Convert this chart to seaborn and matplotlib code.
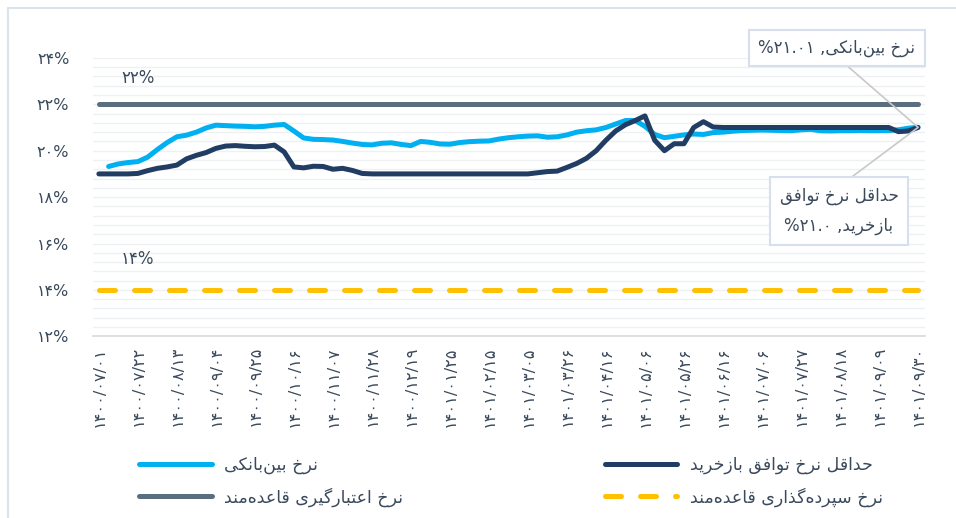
import numpy as np
import matplotlib
matplotlib.use("Agg")
import matplotlib.pyplot as plt
import seaborn as sns
from matplotlib.lines import Line2D
from matplotlib.patches import Rectangle

# === Data (one value every quarter of a tick) ===
tick_labels = [
    "۱۴۰۰/۰۷/۰۱", "۱۴۰۰/۰۷/۲۲", "۱۴۰۰/۰۸/۱۳", "۱۴۰۰/۰۹/۰۴", "۱۴۰۰/۰۹/۲۵",
    "۱۴۰۰/۱۰/۱۶", "۱۴۰۰/۱۱/۰۷", "۱۴۰۰/۱۱/۲۸", "۱۴۰۰/۱۲/۱۹", "۱۴۰۱/۰۱/۲۵",
    "۱۴۰۱/۰۲/۱۵", "۱۴۰۱/۰۳/۰۵", "۱۴۰۱/۰۳/۲۶", "۱۴۰۱/۰۴/۱۶", "۱۴۰۱/۰۵/۰۶",
    "۱۴۰۱/۰۵/۲۶", "۱۴۰۱/۰۶/۱۶", "۱۴۰۱/۰۷/۰۶", "۱۴۰۱/۰۷/۲۷", "۱۴۰۱/۰۸/۱۸",
    "۱۴۰۱/۰۹/۰۹", "۱۴۰۱/۰۹/۳۰",
]

interbank = [
    np.nan, 19.32, 19.43, 19.49,
    19.53, 19.72, 20.05, 20.35,
    20.60, 20.67, 20.80, 20.98,
    21.10, 21.08, 21.06, 21.05,
    21.03, 21.05, 21.10, 21.13,
    20.85, 20.55, 20.49, 20.48,
    20.46, 20.40, 20.33, 20.27,
    20.25, 20.32, 20.34, 20.27,
    20.22, 20.40, 20.36, 20.29,
    20.28, 20.35, 20.39, 20.41,
    20.42, 20.50, 20.56, 20.60,
    20.63, 20.64, 20.58, 20.60,
    20.68, 20.80, 20.86, 20.90,
    21.00, 21.15, 21.30, 21.30,
    21.05, 20.70, 20.56, 20.62,
    20.68, 20.72, 20.70, 20.78,
    20.80, 20.84, 20.87, 20.88,
    20.89, 20.88, 20.87, 20.86,
    20.90, 20.92, 20.86, 20.85,
    20.86, 20.86, 20.87, 20.86,
    20.86, 20.87, 20.90, 20.97,
    21.01,
]

repo_min = [
    19.00, 19.00, 19.00, 19.00,
    19.02, 19.14, 19.24, 19.30,
    19.38, 19.65, 19.80, 19.92,
    20.10, 20.20, 20.22, 20.19,
    20.17, 20.18, 20.24, 19.95,
    19.30, 19.26, 19.33, 19.32,
    19.20, 19.24, 19.15, 19.02,
    19.00, 19.00, 19.00, 19.00,
    19.00, 19.00, 19.00, 19.00,
    19.00, 19.00, 19.00, 19.00,
    19.00, 19.00, 19.00, 19.00,
    19.00, 19.05, 19.10, 19.12,
    19.28, 19.45, 19.67, 20.00,
    20.45, 20.85, 21.12, 21.30,
    21.50, 20.45, 20.00, 20.30,
    20.30, 21.00, 21.25, 21.02,
    21.00, 21.00, 21.00, 21.00,
    21.00, 21.00, 21.00, 21.00,
    21.00, 21.00, 21.00, 21.00,
    21.00, 21.00, 21.00, 21.00,
    21.00, 21.00, 20.82, 20.85,
    21.00,
]

credit_rate = 22.0
deposit_rate = 14.0
y_ticks = [12, 14, 16, 18, 20, 22, 24]

# === Persian text helpers (matplotlib has no Arabic shaping) ===
FORMS = {
    "ا": (0xFE8D, 0xFE8E), "ب": (0xFE8F, 0xFE90, 0xFE91, 0xFE92),
    "پ": (0xFB56, 0xFB57, 0xFB58, 0xFB59), "ت": (0xFE95, 0xFE96, 0xFE97, 0xFE98),
    "ح": (0xFEA1, 0xFEA2, 0xFEA3, 0xFEA4), "خ": (0xFEA5, 0xFEA6, 0xFEA7, 0xFEA8),
    "د": (0xFEA9, 0xFEAA), "ذ": (0xFEAB, 0xFEAC), "ر": (0xFEAD, 0xFEAE),
    "ز": (0xFEAF, 0xFEB0), "س": (0xFEB1, 0xFEB2, 0xFEB3, 0xFEB4),
    "ع": (0xFEC9, 0xFECA, 0xFECB, 0xFECC), "ف": (0xFED1, 0xFED2, 0xFED3, 0xFED4),
    "ق": (0xFED5, 0xFED6, 0xFED7, 0xFED8), "ک": (0xFB8E, 0xFB8F, 0xFB90, 0xFB91),
    "ك": (0xFB8E, 0xFB8F, 0xFB90, 0xFB91), "گ": (0xFB92, 0xFB93, 0xFB94, 0xFB95),
    "ل": (0xFEDD, 0xFEDE, 0xFEDF, 0xFEE0), "م": (0xFEE1, 0xFEE2, 0xFEE3, 0xFEE4),
    "ن": (0xFEE5, 0xFEE6, 0xFEE7, 0xFEE8), "ه": (0xFEE9, 0xFEEA, 0xFEEB, 0xFEEC),
    "و": (0xFEED, 0xFEEE), "ی": (0xFBFC, 0xFBFD, 0xFBFE, 0xFBFF),
    "ي": (0xFBFC, 0xFBFD, 0xFBFE, 0xFBFF),
}


def fa(text):
    """shape Persian letters and put them in visual (left to right) order"""
    out = []
    for j, c in enumerate(text):
        if c not in FORMS:
            if c != "\u200c":
                out.append(c)
            continue
        f = FORMS[c]
        prev = text[j - 1] if j > 0 else ""
        nxt = text[j + 1] if j + 1 < len(text) else ""
        join_prev = prev in FORMS and len(FORMS[prev]) == 4
        join_next = len(f) == 4 and nxt in FORMS
        if join_prev and join_next:
            g = f[3]
        elif join_prev:
            g = f[1]
        elif join_next:
            g = f[2]
        else:
            g = f[0]
        out.append(chr(g))
    return "".join(reversed(out))


FA_DIGITS = str.maketrans("0123456789", "۰۱۲۳۴۵۶۷۸۹")


def pct(v):
    return f"{v:g}".translate(FA_DIGITS) + "%"


# === Style ===
LIGHT_BLUE = "#00B0F0"
NAVY = "#223D63"
GRAY = "#5A6E80"
YELLOW = "#FFC000"
TEXT = "#3A4A5C"
LW = 3.6

sns.set_theme(style="white")
plt.rcParams["font.family"] = ["DejaVu Sans"]

fig = plt.figure(figsize=(9.56, 5.18), dpi=100)
ax = fig.add_axes([93 / 956, 1 - 336.3 / 518, 832 / 956, 278.4 / 518])

x = np.arange(len(repo_min)) / 4
ticks = np.arange(len(tick_labels))

ax.plot(ticks[[0, -1]], [credit_rate, credit_rate], color=GRAY, lw=LW,
        solid_capstyle="round")
ax.plot(ticks[[0, -1]], [deposit_rate, deposit_rate], color=YELLOW, lw=LW,
        dashes=(3.2, 3.8), dash_capstyle="round")
sns.lineplot(x=x, y=interbank, ax=ax, color=LIGHT_BLUE, lw=LW,
             solid_capstyle="round", solid_joinstyle="round")
sns.lineplot(x=x, y=repo_min, ax=ax, color=NAVY, lw=LW,
             solid_capstyle="round", solid_joinstyle="round")

ax.set_xlim(-0.15, 21.18)
ax.set_ylim(12, 24)
ax.set_xticks(ticks)
ax.set_xticklabels(tick_labels, rotation=90, fontsize=11.6, color=TEXT)
ax.set_yticks(y_ticks)
ax.set_yticklabels([pct(v) for v in y_ticks], fontsize=11.5, color=TEXT)
ax.set_yticks(np.arange(12, 24.01, 0.4), minor=True)
ax.tick_params(axis="both", length=0, which="both")
ax.tick_params(axis="y", pad=17)
ax.tick_params(axis="x", pad=7)
ax.grid(True, axis="y", which="both", color="#EEF1F4", lw=1)
ax.set_axisbelow(True)
for s in ["top", "left", "right"]:
    ax.spines[s].set_visible(False)
ax.spines["bottom"].set_color("#D9D9D9")
ax.spines["bottom"].set_linewidth(1.2)

# level labels for the two policy rates
ax.annotate(pct(credit_rate), xy=(1, credit_rate), xytext=(0, 19),
            textcoords="offset points", ha="center", va="center",
            fontsize=12, color=TEXT)
ax.annotate(pct(deposit_rate), xy=(1, deposit_rate), xytext=(0, 22),
            textcoords="offset points", ha="center", va="center",
            fontsize=12, color=TEXT)

# call-outs on the last values
box = dict(boxstyle="square,pad=0.55", fc="white", ec="#D5DFEE", lw=1.5)
last_ib = f"%{interbank[-1]:.2f}".translate(FA_DIGITS)
last_repo = f"%{repo_min[-1]:.1f}".translate(FA_DIGITS)
ax.annotate(f"{last_ib} ,{fa('نرخ بین‌بانکی')}", xy=(ticks[-1], interbank[-1]),
            xytext=(837, 470), textcoords="figure pixels", ha="center", va="center",
            fontsize=12, color=TEXT, bbox=box,
            arrowprops=dict(arrowstyle="-", color="#C9C9C9", lw=1.2,
                            relpos=(0.5, 0), shrinkA=0, shrinkB=0))
ax.annotate(f"{fa('حداقل نرخ توافق')}\n{last_repo} ,{fa('بازخرید')}",
            xy=(ticks[-1], repo_min[-1]),
            xytext=(839, 307), textcoords="figure pixels", ha="center", va="center",
            fontsize=12, color=TEXT, bbox=box, linespacing=1.9,
            arrowprops=dict(arrowstyle="-", color="#C9C9C9", lw=1.2,
                            relpos=(0.5, 1), shrinkA=0, shrinkB=0))

# legend
handles = [
    Line2D([], [], color=LIGHT_BLUE, lw=LW, solid_capstyle="round"),
    Line2D([], [], color=GRAY, lw=LW, solid_capstyle="round"),
    Line2D([], [], color=NAVY, lw=LW, solid_capstyle="round"),
    Line2D([], [], color=YELLOW, lw=LW, dashes=(3.2, 3.8), dash_capstyle="round"),
]
labels = [fa("نرخ بین‌بانکی"), fa("نرخ اعتبارگیری قاعده‌مند"),
          fa("حداقل نرخ توافق بازخرید"), fa("نرخ سپرده‌گذاری قاعده‌مند")]
fig.legend(handles, labels, ncol=2, loc="upper left",
           bbox_to_anchor=(139 / 956, 1 - 456 / 518), frameon=False,
           fontsize=12.5, handlelength=4.2, handletextpad=0.7,
           columnspacing=11.6, labelspacing=0.75, borderpad=0, borderaxespad=0,
           labelcolor=TEXT)

# outer frame of the source picture
fig.add_artist(Rectangle((8 / 956, -0.2), 1.2, 1.2 - 8 / 518, transform=fig.transFigure,
                         fill=False, ec="#DAE3F0", lw=1.5, clip_on=False))

fig.savefig("out.png", dpi=100)
